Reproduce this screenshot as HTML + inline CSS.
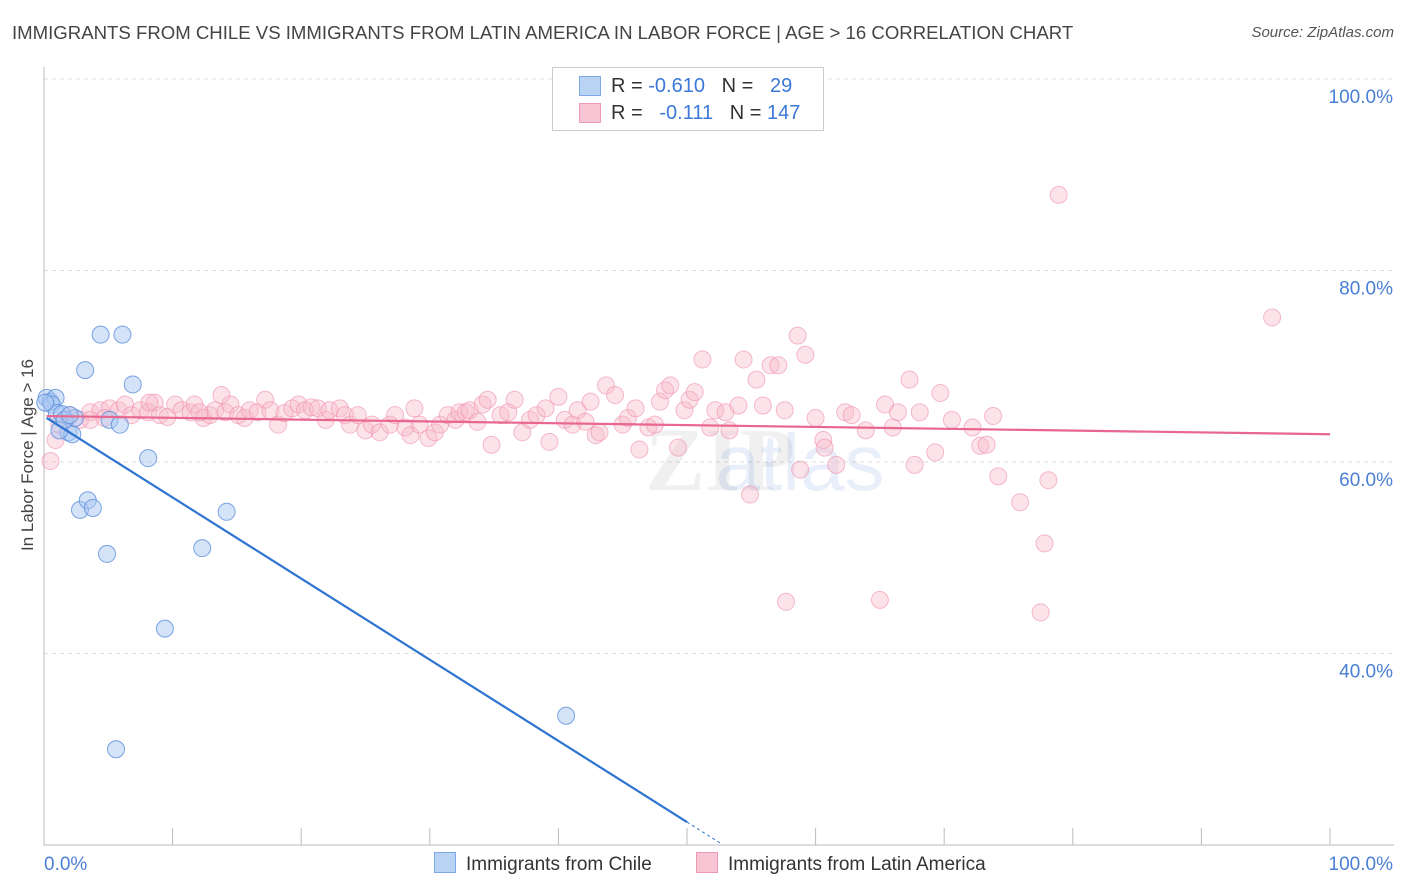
<!DOCTYPE html>
<html><head><meta charset="utf-8"><style>
body{margin:0;background:#fff;font-family:"Liberation Sans",sans-serif;}
#wrap{position:relative;width:1406px;height:892px;overflow:hidden;}
.t{position:absolute;white-space:nowrap;}
</style></head><body>
<div id="wrap">
<div class="t" style="left:12px;top:22px;font-size:18.6px;color:#444;">IMMIGRANTS FROM CHILE VS IMMIGRANTS FROM LATIN AMERICA IN LABOR FORCE | AGE &gt; 16 CORRELATION CHART</div>
<div class="t" style="right:12px;top:24px;font-size:15px;color:#555;font-style:italic;">Source: ZipAtlas.com</div>
<div class="t" style="left:28px;top:455px;font-size:17px;color:#444;transform:translate(-50%,-50%) rotate(-90deg);">In Labor Force | Age &gt; 16</div>
<svg id="svg" width="1406" height="892" style="position:absolute;left:0;top:0"></svg>
<div class="t" style="left:552px;top:67px;width:270px;height:62px;border:1px solid #ccc;background:#fff;font-size:20px;color:#333;">
<div style="position:absolute;left:26px;top:8px;width:20px;height:18px;background:#b8d3f4;border:1px solid #7fa9e6"></div>
<div class="t" style="left:58px;top:7px">R = <span style="color:#3c78d8">-0.610</span>&nbsp;&nbsp;&nbsp;N = &nbsp;&nbsp;<span style="color:#3c78d8">29</span></div>
<div style="position:absolute;left:26px;top:35px;width:20px;height:18px;background:#f9c5d5;border:1px solid #ee9ab5"></div>
<div class="t" style="left:58px;top:34px">R = &nbsp;&nbsp;<span style="color:#3c78d8">-0.111</span>&nbsp;&nbsp;&nbsp;N = <span style="color:#3c78d8">147</span></div>
</div>
<div class="t" style="left:434px;top:852px;font-size:19px;color:#333;"><span style="display:inline-block;width:20px;height:19px;background:#b8d3f4;border:1px solid #7fa9e6;vertical-align:-3px;margin-right:10px"></span>Immigrants from Chile</div>
<div class="t" style="left:696px;top:852px;font-size:19px;color:#333;"><span style="display:inline-block;width:20px;height:19px;background:#f9c5d5;border:1px solid #ee9ab5;vertical-align:-3px;margin-right:10px"></span>Immigrants from Latin America</div>
</div>
<script>
const yTicks=[100,80,60,40];
const yTickLabels=["100.0%","80.0%","60.0%","40.0%"];
const xTickLabels=["0.0%","100.0%"];
const chileX=[0.2,0.5,0.9,0.6,1.0,1.4,1.9,2.2,2.4,5.1,5.9,3.2,4.4,6.1,6.9,8.1,2.8,3.4,3.8,4.9,12.3,14.2,9.4,5.6,40.6,0.1,1.2,1.6,2.0];
const chileY=[66.7,66.3,66.7,66.0,65.1,65.0,63.1,62.9,64.6,64.4,63.9,69.6,73.3,73.3,68.1,60.4,55.0,56.0,55.2,50.4,51.0,54.8,42.6,30.0,33.5,66.2,63.3,64.4,64.9];
const latamX=[0.5,0.9,1.2,1.6,2.0,2.8,3.6,4.4,5.1,5.8,6.3,6.8,7.5,8.1,8.6,9.0,9.6,10.2,10.7,11.4,11.7,12.4,12.9,13.3,13.8,14.1,14.5,15.1,15.6,16.0,16.6,17.2,17.6,18.2,18.7,19.3,19.8,20.3,20.8,21.3,21.9,22.2,23.0,23.4,23.8,24.4,25.0,25.5,26.1,26.9,27.3,28.1,28.5,28.8,29.2,29.9,30.4,30.8,31.4,32.0,32.3,32.8,33.1,33.7,34.1,34.5,34.8,35.5,36.1,36.6,37.2,37.8,38.3,39.0,39.3,40.0,40.5,41.1,41.5,42.1,42.5,42.9,43.2,43.7,44.4,45.0,45.4,46.0,46.3,47.0,47.5,47.9,48.3,48.7,49.3,49.8,50.2,50.6,51.2,51.8,52.2,53.0,53.3,54.0,54.4,54.9,55.4,55.9,56.5,57.1,57.6,57.7,58.6,58.8,59.2,60.0,60.6,60.7,61.6,62.3,62.8,63.9,65.0,65.4,66.0,66.4,67.3,67.7,68.1,69.3,69.7,70.6,72.2,72.8,73.3,73.8,74.2,75.9,77.5,77.8,78.1,78.9,95.5,3.6,4.7,8.2,12.1];
const latamY=[60.1,62.3,63.9,64.4,64.9,64.4,65.2,65.4,65.6,65.4,66.0,64.9,65.4,65.2,66.2,64.9,64.7,66.0,65.4,65.2,66.0,64.6,64.9,65.4,67.0,65.2,66.0,64.9,64.6,65.4,65.2,66.5,65.4,63.9,65.1,65.6,66.0,65.4,65.7,65.6,64.4,65.4,65.6,64.9,63.9,64.9,63.3,63.9,63.1,63.9,64.9,63.6,62.8,65.6,63.9,62.5,63.1,63.9,64.9,64.4,65.2,65.2,65.4,64.2,66.0,66.5,61.8,64.9,65.2,66.5,63.1,64.4,64.9,65.6,62.1,66.8,64.4,63.9,65.4,64.2,66.3,62.8,63.1,68.0,67.0,63.9,64.6,65.6,61.3,63.6,63.9,66.3,67.5,68.0,61.5,65.4,66.5,67.3,70.7,63.6,65.4,65.2,63.3,65.9,70.7,56.6,68.6,65.9,70.1,70.1,65.4,45.4,73.2,59.2,71.2,64.6,62.3,61.5,59.7,65.2,64.9,63.3,45.6,66.0,63.6,65.2,68.6,59.7,65.2,61.0,67.2,64.4,63.6,61.7,61.8,64.8,58.5,55.8,44.3,51.5,58.1,87.9,75.1,64.4,64.6,66.2,65.2];
const X=v=>44+v*12.86, Y=v=>845-(v-20)*9.575;
const NS="http://www.w3.org/2000/svg", svg=document.getElementById('svg');
function mk(tag,attrs){const e=document.createElementNS(NS,tag);for(const k in attrs)e.setAttribute(k,attrs[k]);svg.appendChild(e);return e;}
yTicks.forEach((t,i)=>{
 const g=mk('line',{x1:44,x2:1394,y1:Y(t),y2:Y(t),stroke:'#ddd','stroke-dasharray':'4,4'});
 
 
 const tx=mk('text',{x:1393,y:Y(t)+24,'text-anchor':'end','font-size':19,fill:'#4a7fd6','font-family':'Liberation Sans, sans-serif'});
 tx.textContent=yTickLabels[i];
 
 
});
const ya=mk('line',{x1:44,x2:44,y1:67,y2:845,stroke:'#bbb'});


const xa=mk('line',{x1:44,x2:1394,y1:845,y2:845,stroke:'#bbb'});


for(let i=0;i<=10;i++){const tk=mk('line',{x1:X(i*10),x2:X(i*10),y1:828,y2:845,stroke:'#bbb'});
 
 }
[[0,'start',44],[100,'end',1393]].forEach((a,i)=>{const tx=mk('text',{x:a[2],y:870,'text-anchor':a[1],'font-size':19,fill:'#4a7fd6','font-family':'Liberation Sans, sans-serif'});tx.textContent=xTickLabels[i];
 
 });
const wm=mk('text',{x:720,y:490,'text-anchor':'middle','font-size':90,fill:'#000','fill-opacity':0.06,'font-family':'Liberation Serif, serif','font-weight':'bold'});
wm.textContent='ZIP';


const wm2=mk('text',{x:800,y:490,'text-anchor':'middle','font-size':80,fill:'#4a7fd6','fill-opacity':0.12,'font-family':'Liberation Sans, sans-serif'});
wm2.textContent='atlas';


latamX.forEach((x,i)=>{const c=mk('circle',{cx:X(x),cy:Y(latamY[i]),r:8.5,fill:'#f7b8cb','fill-opacity':0.4,stroke:'#ee8fae','stroke-opacity':0.6});
 
 });
chileX.forEach((x,i)=>{const c=mk('circle',{cx:X(x),cy:Y(chileY[i]),r:8.5,fill:'#a9c8f1','fill-opacity':0.5,stroke:'#5b8fdc','stroke-opacity':0.8});
 
 });
const pl=mk('line',{x1:X(0.2),y1:Y(64.8),x2:X(100),y2:Y(62.9),stroke:'#e8668f','stroke-width':2.2});


const bl=mk('line',{x1:X(0.2),y1:Y(64.6),x2:X(50),y2:Y(22.4),stroke:'#2f74d0','stroke-width':2.2});


const bd=mk('line',{x1:X(50),y1:Y(22.4),x2:X(52.7),y2:Y(20.1),stroke:'#2f74d0','stroke-width':1,'stroke-dasharray':'3,3'});


</script>
</body></html>
